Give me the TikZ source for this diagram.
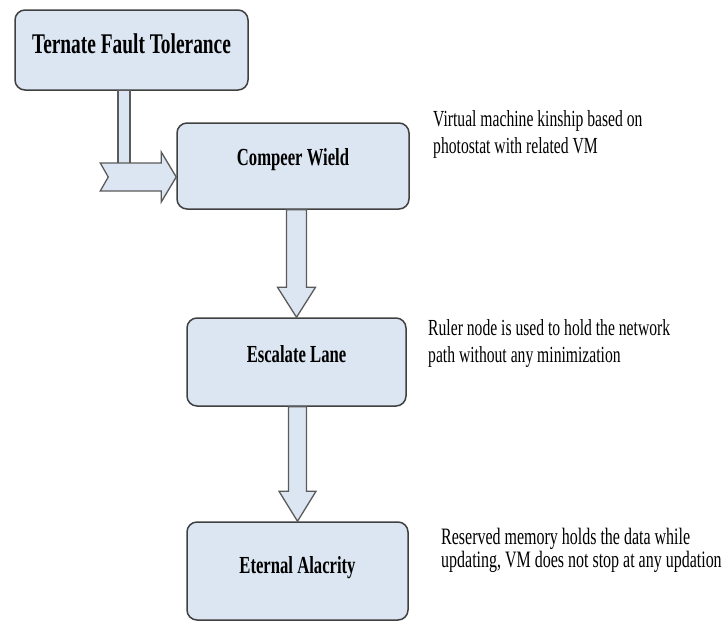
\documentclass[tikz,border=0pt]{standalone}
\usepackage{fontspec}
\setmainfont{Liberation Serif}[FakeStretch=0.68]
\usetikzlibrary{calc}
\definecolor{boxfill}{HTML}{DCE6F2}
\definecolor{boxline}{HTML}{404040}
\definecolor{arrowline}{HTML}{5A5A5A}

\begin{document}
\begin{tikzpicture}[x=1pt,y=-1pt,
  stage/.style={draw=boxline, line width=1.5pt, fill=boxfill,
    rounded corners=10pt, inner sep=0pt,
    font=\bfseries\fontsize{24.5}{28}\selectfont},
  note/.style={anchor=base west, align=left, inner sep=0pt,
    font=\fontsize{23}{27}\selectfont},
  fat/.style={draw=arrowline, line width=1.3pt, fill=boxfill, line join=miter}]
\useasboundingbox (0,0) rectangle (722,621);

% process stages
\node[stage, minimum width=233pt, minimum height=80pt,
      text height=20pt, text depth=14pt,
      font=\bfseries\fontsize{28.5}{32}\selectfont] (b1) at (131.5,50) {Ternate Fault Tolerance};
\node[stage, minimum width=232pt, minimum height=86pt,
      text height=16pt, text depth=18pt] (b2) at (293,166) {Compeer Wield};
\node[stage, minimum width=219pt, minimum height=88pt,
      text height=16pt, text depth=16pt] (b3) at (296.5,362) {Escalate Lane};
\node[stage, minimum width=221pt, minimum height=98pt,
      text height=18pt, text depth=14pt] (b4) at (297.5,571) {Eternal Alacrity};

% bent block arrow from the first stage into the second
\draw[fat] ($(b1.south)+(-13.5,0)$) rectangle ($(b1.south)+(-1.5,75)$);
\coordinate (t1) at ($(b2.west)+(0,11)$);
\draw[fat] (t1) ++(-76,-14) -- ++(61,0) -- ++(0,-11) -- (t1)
  -- ++(-15,25) -- ++(0,-11) -- ++(-61,0) -- ++(8,-14) -- cycle;

% block arrow: Compeer Wield -> Escalate Lane
\path (b3.north) ++(-10,0) coordinate (a1l) ++(20,0) coordinate (a1r);
\draw[fat] (a1l |- b2.south) -- ($(a1l)+(0,-30)$) -- ($(a1l)+(-9,-30)$)
  -- (b3.north) -- ($(a1r)+(9,-30)$) -- ($(a1r)+(0,-30)$)
  -- (a1r |- b2.south) -- cycle;

% block arrow: Escalate Lane -> Eternal Alacrity
\path (b4.north) ++(-9,0) coordinate (a2l) ++(18,0) coordinate (a2r);
\draw[fat] (a2l |- b3.south) -- ($(a2l)+(0,-30)$) -- ($(a2l)+(-9.5,-30)$)
  -- (b4.north) -- ($(a2r)+(9.5,-30)$) -- ($(a2r)+(0,-30)$)
  -- (a2r |- b3.south) -- cycle;

% descriptions
\node[note] (n2) at (433,153) {Virtual machine kinship based on\\photostat with related VM};
\node[note] (n3) at (428,362) {Ruler node is used to hold the network\\path without any minimization};
\node[note, font=\fontsize{23.5}{22.5}\selectfont] (n4) at (441,567) {Reserved memory holds the data while\\updating, VM does not stop at any updation};
\end{tikzpicture}
\end{document}
